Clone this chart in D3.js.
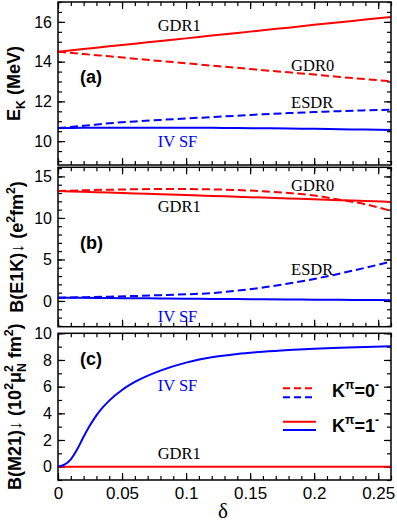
<!DOCTYPE html>
<html>
<head>
<meta charset="utf-8">
<style>
    html, body {
        margin: 0;
        padding: 0;
        background: #fff;
    }
    svg text {
        font-family: "Liberation Sans", Arial, Helvetica, sans-serif;
    }
    svg text.serif {
        font-family: "Liberation Serif", "Times New Roman", serif;
    }
</style>
</head>
<body>
<svg id="chart" width="397" height="526"></svg>
<script src="https://cdn.jsdelivr.net/npm/d3@7"></script>
<script>
    "use strict";

    // deformation grid used by panels (a) and (b)
    const delta = [0, 0.02, 0.04, 0.06, 0.08, 0.10, 0.12, 0.14, 0.16, 0.18, 0.20, 0.22, 0.24, 0.26];

    // (a) energies E_K (MeV)
    const eGDR1 = [14.50, 14.63, 14.77, 14.90, 15.04, 15.17, 15.31, 15.44, 15.58, 15.71, 15.85, 15.98, 16.12, 16.25];
    const eGDR0 = [14.50, 14.38, 14.27, 14.15, 14.03, 13.92, 13.80, 13.69, 13.57, 13.46, 13.35, 13.23, 13.12, 13.01];
    const eESDR = [10.66, 10.77, 10.90, 10.99, 11.07, 11.14, 11.21, 11.28, 11.35, 11.41, 11.46, 11.51, 11.55, 11.58];
    const eIVSF = [10.66, 10.67, 10.68, 10.68, 10.68, 10.68, 10.67, 10.66, 10.65, 10.63, 10.62, 10.60, 10.58, 10.56];

    // (b) B(E1K) (e^2 fm^2)
    const bGDR1 = [13.25, 13.15, 13.05, 12.95, 12.85, 12.75, 12.65, 12.55, 12.45, 12.35, 12.25, 12.14, 12.04, 11.93];
    const bGDR0 = [13.25, 13.33, 13.40, 13.45, 13.48, 13.48, 13.44, 13.36, 13.22, 13.00, 12.70, 12.20, 11.65, 10.85];
    const bESDR = [0.40, 0.45, 0.52, 0.60, 0.70, 0.80, 0.95, 1.25, 1.62, 2.10, 2.65, 3.30, 4.00, 4.75];
    const bIVSF = [0.40, 0.38, 0.35, 0.33, 0.30, 0.28, 0.25, 0.23, 0.20, 0.18, 0.16, 0.14, 0.12, 0.10];

    // (c) B(M21) (10^2 mu_N^2 fm^2), finer grid near zero
    const deltaM = [0, 0.005, 0.01, 0.015, 0.02, 0.025, 0.03, 0.04, 0.05, 0.06, 0.08, 0.10, 0.12, 0.14, 0.16, 0.18, 0.20, 0.22, 0.24, 0.26];
    const mIVSF = [0, 0.15, 0.55, 1.3, 2.25, 3.1, 3.85, 4.95, 5.75, 6.35, 7.2, 7.8, 8.2, 8.45, 8.62, 8.75, 8.85, 8.92, 8.98, 9.02];
    const mGDR1 = [0, 0, 0, 0, 0, 0, 0, 0, 0, 0, 0, 0, 0, 0];

    const xTicks = [0, 0.05, 0.1, 0.15, 0.2, 0.25];

    const RED = "#ff0000";
    const BLUE = "#0000ff";
    const DASH = "8,4";

    const LEFT = 58, RIGHT = 391;
    const W = RIGHT - LEFT;

    const svg = d3.select("#chart");

    const x = d3.scaleLinear().domain([0, 0.26]).range([0, W]);

    const panels = [
        {
            name: "(a)", top: 2, bottom: 165, domain: [8.8, 17],
            major: [10, 12, 14, 16], minor: d3.range(9, 17.01, 0.5),
            title: [{t: "E"}, {t: "K", s: "sub"}, {t: " (MeV)"}], titleX: 20,
            series: [
                {xs: delta, ys: eGDR1, color: RED},
                {xs: delta, ys: eGDR0, color: RED, dash: true},
                {xs: delta, ys: eESDR, color: BLUE, dash: true},
                {xs: delta, ys: eIVSF, color: BLUE}
            ],
            labels: [
                {t: "GDR1", d: 0.0778, v: 15.52, color: "#000"},
                {t: "GDR0", d: 0.182, v: 13.55, color: "#000"},
                {t: "ESDR", d: 0.182, v: 11.65, color: "#000"},
                {t: "IV SF", d: 0.0778, v: 9.72, color: BLUE}
            ],
            tag: {d: 0.014, v: 12.95}
        },
        {
            name: "(b)", top: 167.3, bottom: 326.7, domain: [-3.1, 16.1],
            major: [0, 5, 10, 15], minor: d3.range(-3, 16.01, 1),
            title: [{t: "B(E1K)\u2193 (e"}, {t: "2", s: "sup"}, {t: "fm"}, {t: "2", s: "sup"}, {t: ")"}], titleX: 23,
            series: [
                {xs: delta, ys: bGDR1, color: RED},
                {xs: delta, ys: bGDR0, color: RED, dash: true},
                {xs: delta, ys: bESDR, color: BLUE, dash: true},
                {xs: delta, ys: bIVSF, color: BLUE}
            ],
            labels: [
                {t: "GDR0", d: 0.182, v: 13.29, color: "#000"},
                {t: "GDR1", d: 0.0778, v: 10.76, color: "#000"},
                {t: "ESDR", d: 0.182, v: 3.13, color: "#000"},
                {t: "IV SF", d: 0.0778, v: -2.49, color: BLUE}
            ],
            tag: {d: 0.014, v: 6.3}
        },
        {
            name: "(c)", top: 333.3, bottom: 480, domain: [-1, 10],
            major: [0, 2, 4, 6, 8, 10], minor: d3.range(-1, 10.01, 1),
            title: [{t: "B(M21)\u2193 (10"}, {t: "2", s: "sup"}, {t: "\u03bc"}, {t: "2", s: "sup"}, {t: "N", s: "sub", back: 0.38}, {t: " fm"}, {t: "2", s: "sup"}, {t: ")"}],
            titleX: 21,
            series: [
                {xs: delta, ys: mGDR1, color: RED},
                {xs: deltaM, ys: mIVSF, color: BLUE}
            ],
            labels: [
                {t: "IV SF", d: 0.0778, v: 5.7, color: BLUE},
                {t: "GDR1", d: 0.0778, v: 0.55, color: "#000"}
            ],
            tag: {d: 0.014, v: 7.6},
            xLabels: true
        }
    ];

    // writes text made of parts with super/subscripts as tspans
    function richText(sel, parts, size) {
        let shift = 0;
        parts.forEach(function (p) {
            let target = 0;
            if (p.s === "sup") target = -0.42 * size;
            if (p.s === "sub") target = 0.3 * size;
            const ts = sel.append("tspan")
                .attr("dy", target - shift)
                .attr("font-size", p.s ? size * 0.68 : size)
                .text(p.t);
            if (p.back) ts.attr("dx", -p.back * size);
            shift = target;
        });
    }

    function styleAxis(g) {
        g.select(".domain").remove();
        g.selectAll(".tick line").attr("stroke", "#000").attr("stroke-width", 1.2);
    }

    panels.forEach(function (p) {
        const H = p.bottom - p.top;
        const y = d3.scaleLinear().domain(p.domain).range([H, 0]);
        const g = svg.append("g").attr("transform", "translate(" + LEFT + "," + p.top + ")");

        // minor ticks on all sides
        g.append("g").call(d3.axisLeft(y).tickValues(p.minor).tickSize(-4).tickFormat("")).call(styleAxis);
        g.append("g").attr("transform", "translate(" + W + ",0)")
            .call(d3.axisRight(y).tickValues(p.minor).tickSize(-4).tickFormat("")).call(styleAxis);
        g.append("g").call(d3.axisTop(x).ticks(26).tickSize(-4).tickFormat("")).call(styleAxis);
        g.append("g").attr("transform", "translate(0," + H + ")")
            .call(d3.axisBottom(x).ticks(26).tickSize(-4).tickFormat("")).call(styleAxis);

        // major ticks
        g.append("g")
            .call(d3.axisLeft(y).tickValues(p.major).tickSize(-7).tickPadding(6))
            .call(styleAxis)
            .attr("font-size", 16)
            .attr("font-family", null)
            .selectAll("text").attr("fill", "#000");
        g.append("g").attr("transform", "translate(" + W + ",0)")
            .call(d3.axisRight(y).tickValues(p.major).tickSize(-7).tickFormat("")).call(styleAxis);
        g.append("g").call(d3.axisTop(x).tickValues(xTicks).tickSize(-7).tickFormat("")).call(styleAxis);
        const bx = g.append("g").attr("transform", "translate(0," + H + ")")
            .call(d3.axisBottom(x).tickValues(xTicks).tickSize(-7).tickPadding(7)
                .tickFormat(p.xLabels ? function (d) { return String(+d.toFixed(2)); } : ""))
            .call(styleAxis)
            .attr("font-size", 17)
            .attr("font-family", null);
        bx.selectAll("text").attr("fill", "#000");

        // series
        const line = d3.line()
            .x(function (d) { return x(d[0]); })
            .y(function (d) { return y(d[1]); })
            .curve(d3.curveMonotoneX);

        g.selectAll("path.series")
            .data(p.series)
            .enter()
            .append("path")
            .attr("class", "series")
            .attr("fill", "none")
            .attr("stroke", function (s) { return s.color; })
            .attr("stroke-width", 2)
            .attr("stroke-dasharray", function (s) { return s.dash ? DASH : null; })
            .attr("d", function (s) { return line(d3.zip(s.xs, s.ys)); });

        // curve labels
        g.selectAll("text.lbl")
            .data(p.labels)
            .enter()
            .append("text")
            .attr("class", "lbl serif")
            .attr("x", function (l) { return x(l.d); })
            .attr("y", function (l) { return y(l.v); })
            .attr("font-size", 16.5)
            .attr("fill", function (l) { return l.color; })
            .text(function (l) { return l.t; });

        // panel tag
        g.append("text")
            .attr("x", x(p.tag.d) + 4)
            .attr("y", y(p.tag.v))
            .attr("font-size", 18)
            .attr("font-weight", "bold")
            .text(p.name);

        // frame
        g.append("rect")
            .attr("width", W)
            .attr("height", H)
            .attr("fill", "none")
            .attr("stroke", "#000")
            .attr("stroke-width", 1.5);

        // y title
        const t = svg.append("text")
            .attr("transform", "translate(" + p.titleX + "," + (p.top + H / 2) + ") rotate(-90)")
            .attr("text-anchor", "middle")
            .attr("font-weight", "bold");
        richText(t, p.title, 18);

        p.g = g;
    });

    // legend in panel (c)
    const legend = [
        {k: "0", dash: true, rows: [55, 64], base: 63.7},
        {k: "1", dash: false, rows: [88.4, 96.7], base: 98.7}
    ];
    const lg = panels[2].g;
    legend.forEach(function (e) {
        [RED, BLUE].forEach(function (c, i) {
            lg.append("line")
                .attr("x1", 225).attr("x2", 258)
                .attr("y1", e.rows[i]).attr("y2", e.rows[i])
                .attr("stroke", c)
                .attr("stroke-width", 2)
                .attr("stroke-dasharray", e.dash ? "7,4" : null);
        });
        const t = lg.append("text")
            .attr("x", 274)
            .attr("y", e.base)
            .attr("font-weight", "bold");
        richText(t, [{t: "K"}, {t: "\u03c0", s: "sup"}, {t: "=" + e.k}, {t: "-", s: "sup"}], 18);
    });

    // x title
    svg.append("text")
        .attr("class", "serif")
        .attr("x", 223)
        .attr("y", 518)
        .attr("text-anchor", "middle")
        .attr("font-size", 21)
        .text("\u03b4");
</script>
</body>
</html>
